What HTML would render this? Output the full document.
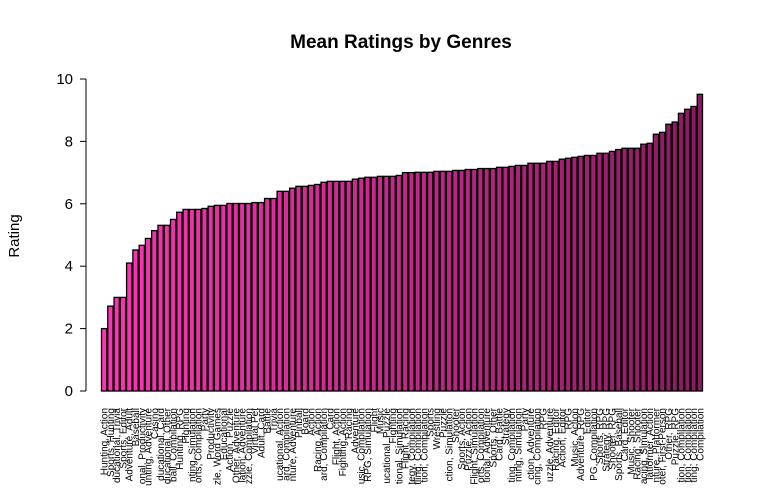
<!DOCTYPE html>
<html><head><meta charset="utf-8"><style>
html,body{margin:0;background:#fff;width:767px;height:489px;overflow:hidden}
svg{display:block;font-family:"Liberation Sans",Arial,sans-serif;overflow:hidden}
</style></head><body>
<svg id="chart" width="767" height="489" viewBox="0 0 767 489">
<text x="401" y="48" text-anchor="middle" font-size="19" font-weight="bold">Mean Ratings by Genres</text>
<text transform="translate(19,236) rotate(-90)" text-anchor="middle" font-size="15">Rating</text>
<g id="yaxis"></g>
<g id="bars"></g>
<g id="xlabels"></g>
</svg>
<script>
const genres = ["Hunting, Action","Sports, Hunting","Educational, Trivia","Sports, Editor","Adventure, Adult","Baseball","Educational, Productivity","Hunting, Adventure","Casino","Educational, Card","Educational, Other","Pinball, Compilation","Hunting, RPG","Fighting","Hunting, Simulation","Sports, Compilation","Party","Productivity","Puzzle, Word Games","Educational","Action, Puzzle","Other, Adventure","Simulation, Adventure","Puzzle, Compilation","Virtual Pet","Adult, Card","Battle","Trivia","Educational, Action","Card, Compilation","Adventure, Adventure","Pinball","Board","Action","Racing, Action","Card, Compilation","Card","Flight, Action","Fighting, Action","Racing","Adventure","Music, Compilation","RPG, Simulation","Flight","Music","Educational, Puzzle","Fighting","Educational, Simulation","Flight, Racing","Strategy, Compilation","Wrestling, Compilation","Simulation, Compilation","Sports","Wrestling","Puzzle","Action, Simulation","Shooter","Sports, Action","Puzzle, Action","Flight, Simulation","Sports, Compilation","Educational, Adventure","Sports, Other","Card, Battle","Strategy","Hunting, Compilation","Hunting, Simulation","Party","Action, Adventure","Racing, Compilation","RPG","Puzzle, Adventure","Racing, Editor","Action, Editor","RPG","Music, Action","Adventure, RPG","Editor","RPG, Compilation","Sports, RPG","Strategy, RPG","Shooter, RPG","Sports, Baseball","Card, Editor","Music, Shooter","Racing, Shooter","Racing, Simulation","Platformer, Action","Adventure, Platformer","Shooter, First-Person","Other, RPG","Puzzle, RPG","Simulation, Compilation","Action, Compilation","Fighting, Compilation","Compilation"];
const ratings = [2.0,2.72,3.0,3.0,4.1,4.52,4.67,4.89,5.14,5.31,5.31,5.5,5.73,5.82,5.82,5.82,5.85,5.92,5.95,5.95,6.01,6.01,6.01,6.01,6.04,6.04,6.17,6.17,6.4,6.4,6.5,6.56,6.56,6.59,6.62,6.69,6.72,6.72,6.72,6.72,6.79,6.82,6.85,6.85,6.88,6.88,6.88,6.91,7.0,7.0,7.01,7.01,7.01,7.04,7.04,7.04,7.07,7.07,7.1,7.1,7.13,7.13,7.13,7.17,7.17,7.2,7.23,7.23,7.3,7.3,7.3,7.36,7.36,7.43,7.46,7.49,7.52,7.55,7.55,7.62,7.62,7.68,7.74,7.78,7.78,7.78,7.91,7.94,8.23,8.29,8.55,8.62,8.9,9.03,9.12,9.51];
const yTicks = [0,2,4,6,8,10];
const NS="http://www.w3.org/2000/svg";
const X0=101, X1=703, Y0=391, Y10=79;
const n = ratings.length, pitch=(X1-X0)/n;
function yScale(v){return Y0-(Y0-Y10)*v/10;}
function xScale(i){return X0+i*pitch;}
function mk(tag,attrs){const e=document.createElementNS(NS,tag);for(const k in attrs)e.setAttribute(k,attrs[k]);return e;}
const ya=document.getElementById('yaxis');
ya.appendChild(mk('line',{x1:86,x2:86,y1:yScale(0),y2:yScale(10),stroke:'#000'}));
yTicks.forEach(t=>{
  const l=mk('line',{x1:80,x2:86,y1:yScale(t),y2:yScale(t),stroke:'#000'});
  
  
  ya.appendChild(l);
  const tx=mk('text',{x:73,y:yScale(t)+5,'text-anchor':'end','font-size':15});
  tx.textContent=t;
  
  
  ya.appendChild(tx);
});
const c0=[255,51,181], c1=[139,27,96];
const bg=document.getElementById('bars'), xl=document.getElementById('xlabels');
const maxLen=78;
ratings.forEach((v,i)=>{
  const f=n>1?i/(n-1):0;
  const col='rgb('+c0.map((c,k)=>Math.round(c+(c1[k]-c)*f)).join(',')+')';
  const r=mk('rect',{x:xScale(i)+0.5,y:yScale(v),width:pitch-1,height:yScale(0)-yScale(v),fill:col,stroke:'#000','stroke-width':1.3});
  
  
  bg.appendChild(r);
  const cx=xScale(i)+pitch/2+3.5;
  const t=mk('text',{transform:'translate('+cx+',408) rotate(-90)','text-anchor':'end','font-size':10});
  
  
  let s=genres[i];
  t.textContent=s;
  xl.appendChild(t);
  while(s.length>1 && t.getComputedTextLength()>maxLen){s=s.slice(1);t.textContent=s;}
});
</script>
</body></html>
